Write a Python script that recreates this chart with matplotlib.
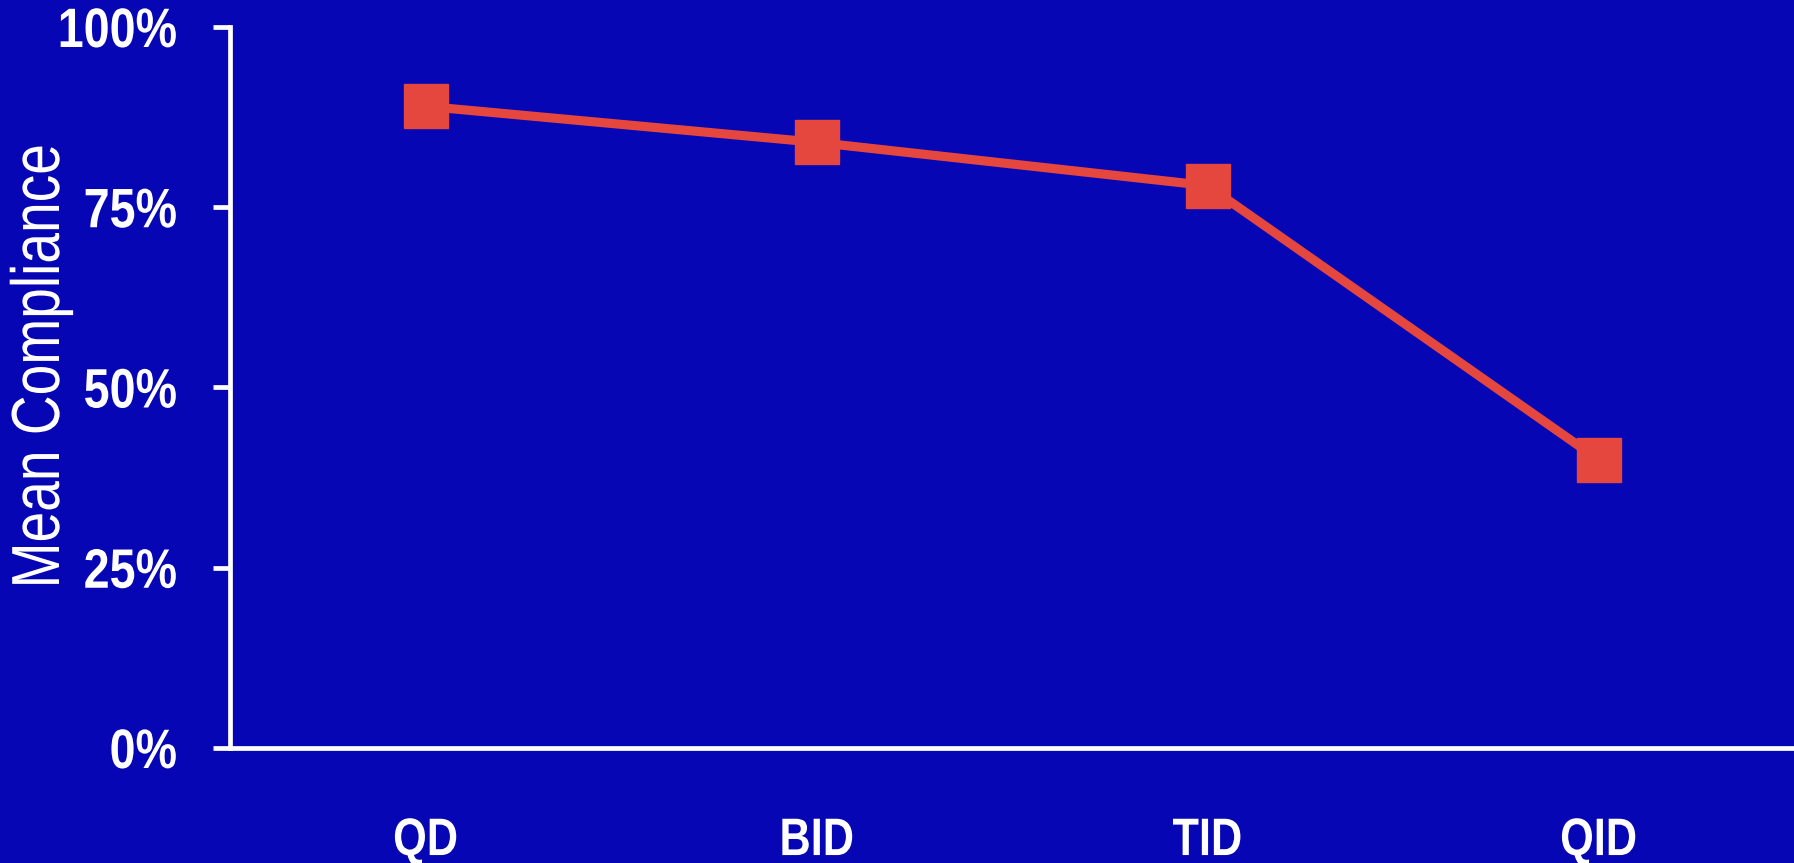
import matplotlib
matplotlib.use("Agg")
import matplotlib.pyplot as plt
from matplotlib.patheffects import AbstractPathEffect
from matplotlib.transforms import Affine2D
from matplotlib.ticker import FuncFormatter

# Dosing frequency vs mean compliance
categories = ["QD", "BID", "TID", "QID"]
compliance = [89, 84, 78, 40]
y_ticks = [0, 25, 50, 75, 100]

BG = "#0606B4"
RED = "#E5463E"
WHITE = "#FFFFFF"
FONT = ["Liberation Sans", "DejaVu Sans"]


class Condense(AbstractPathEffect):
    """Narrow the glyphs along the reading direction, keeping one edge fixed."""

    def __init__(self, factor, anchor="center", vertical=False):
        super().__init__()
        self.factor = factor
        self.anchor = anchor
        self.vertical = vertical

    def draw_path(self, renderer, gc, tpath, affine, rgbFace=None):
        ext = tpath.get_extents(affine)
        if self.vertical:
            c = (ext.y0 + ext.y1) / 2
            squeeze = Affine2D().translate(0, -c).scale(1, self.factor).translate(0, c)
        else:
            if self.anchor == "right":
                c = ext.x1
            elif self.anchor == "left":
                c = ext.x0
            else:
                c = (ext.x0 + ext.x1) / 2
            squeeze = Affine2D().translate(-c, 0).scale(self.factor, 1).translate(c, 0)
        renderer.draw_path(gc, tpath, affine + squeeze, rgbFace)


fig = plt.figure(figsize=(17.94, 8.63), dpi=100, facecolor=BG)
ax = fig.add_axes([230 / 1794, 115 / 863, 1 - 230 / 1794, 721 / 863])
ax.set_facecolor(BG)

x = list(range(len(categories)))
ax.plot(x, compliance, color=RED, lw=6.6, marker="s", markersize=31.5,
        markerfacecolor=RED, markeredgecolor=RED, zorder=3, clip_on=False)

ax.set_xlim(-0.5, 3.5)
ax.set_ylim(0, 100)

for side in ("top", "right"):
    ax.spines[side].set_visible(False)
for side in ("left", "bottom"):
    ax.spines[side].set_color(WHITE)
    ax.spines[side].set_linewidth(3.4)

ax.set_yticks(y_ticks)
ax.yaxis.set_major_formatter(FuncFormatter(lambda v, p: f"{int(v)}%"))
ax.set_xticks(x)
ax.set_xticklabels(categories)

ax.tick_params(axis="y", direction="out", length=12, width=3.4, color=WHITE,
               pad=26, labelcolor=WHITE, labelsize=40)
ax.tick_params(axis="x", length=0, pad=49, labelcolor=WHITE, labelsize=38)
for lab in ax.get_yticklabels():
    lab.set_fontfamily(FONT)
    lab.set_fontweight("bold")
    lab.set_path_effects([Condense(0.84, anchor="right")])
for lab in ax.get_xticklabels():
    lab.set_fontfamily(FONT)
    lab.set_fontweight("bold")
    lab.set_path_effects([Condense(0.82, anchor="center")])

ylab = ax.set_ylabel("Mean Compliance", color=WHITE, fontsize=49, family=FONT)
ylab.set_path_effects([Condense(0.81, vertical=True)])
ax.yaxis.set_label_coords((73 - 230) / 1564, (748 - 366.5) / 721)

fig.savefig("out.png", dpi=100, facecolor=BG)
